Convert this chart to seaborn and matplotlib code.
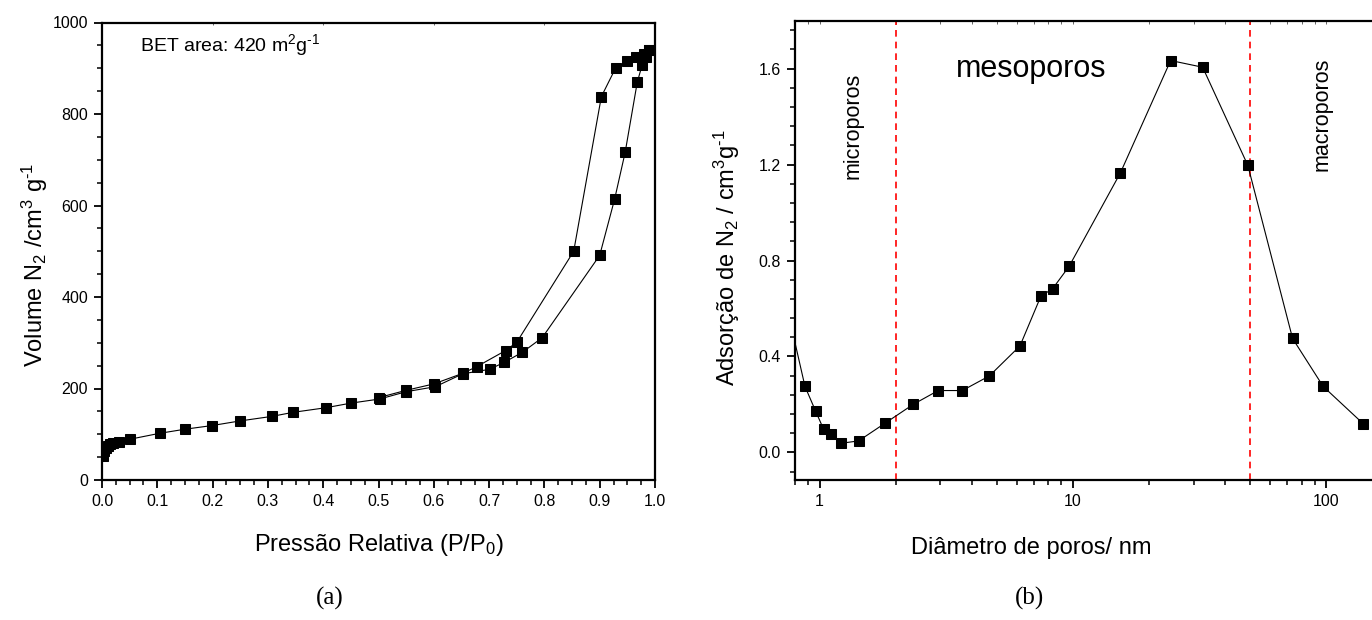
import matplotlib
matplotlib.use("Agg")
import matplotlib.pyplot as plt
import numpy as np
import pandas as pd
import seaborn as sns
from matplotlib.ticker import (MultipleLocator, LogLocator, FuncFormatter,
                               NullFormatter, FormatStrFormatter)

# ---- N2 isotherm: relative pressure and adsorbed volume ----
ads_p = [0.002, 0.004, 0.007, 0.010, 0.015, 0.020, 0.030, 0.050, 0.104, 0.150,
         0.199, 0.249, 0.307, 0.346, 0.405, 0.450, 0.502, 0.550, 0.603, 0.652,
         0.701, 0.727, 0.760, 0.796, 0.900, 0.927, 0.946, 0.968, 0.977, 0.983,
         0.989]
ads_v = [53, 64, 71, 75, 78, 81, 84, 89, 102, 111,
         119, 129, 139, 148, 158, 168, 177, 193, 204, 232,
         242, 257, 279, 311, 491, 614, 716, 870, 908, 924,
         940]
des_p = [0.989, 0.980, 0.965, 0.950, 0.929, 0.903, 0.853, 0.750, 0.730, 0.678,
         0.652, 0.600, 0.550, 0.500]
des_v = [940, 932, 924, 915, 901, 838, 500, 301, 283, 248,
         233, 210, 196, 180]

# ---- pore size distribution ----
pore_d = [0.72, 0.876, 0.964, 1.037, 1.106, 1.213, 1.426, 1.815, 2.34, 2.94,
          3.66, 4.68, 6.18, 7.47, 8.32, 9.66, 15.4, 24.3, 32.5, 49.0,
          73.6, 97.2, 139.7]
pore_v = [0.67, 0.275, 0.173, 0.097, 0.076, 0.038, 0.048, 0.122, 0.200, 0.258,
          0.258, 0.319, 0.444, 0.651, 0.683, 0.776, 1.166, 1.634, 1.606, 1.197,
          0.475, 0.275, 0.120]
region_limits = [2, 50]

sns.set_theme(style="ticks", rc={
    "axes.edgecolor": "black",
    "xtick.color": "black",
    "ytick.color": "black",
    "text.color": "black",
    "axes.labelcolor": "black",
})
plt.rcParams["font.family"] = ["Liberation Sans", "DejaVu Sans"]
plt.rcParams["mathtext.fontset"] = "custom"
plt.rcParams["mathtext.rm"] = "Liberation Sans"
plt.rcParams["mathtext.it"] = "Liberation Sans:italic"
plt.rcParams["mathtext.default"] = "regular"

W, H = 1372, 620
fig = plt.figure(figsize=(W / 100, H / 100), dpi=100)


def axes_px(left, top, right, bottom):
    return fig.add_axes([left / W, 1 - bottom / H, (right - left) / W, (bottom - top) / H])


ax1 = axes_px(102, 22.5, 655, 480)
ax2 = axes_px(795, 20.7, 1402.6, 480)

line_kw = dict(color="black", lw=0.8, marker="s", markersize=7.5,
               markeredgecolor="black", markerfacecolor="black",
               sort=False, estimator=None)

iso_ads = pd.DataFrame({"p": ads_p, "v": ads_v})
iso_des = pd.DataFrame({"p": des_p, "v": des_v})
sns.lineplot(data=iso_ads, x="p", y="v", ax=ax1, **line_kw)
sns.lineplot(data=iso_des, x="p", y="v", ax=ax1, **line_kw)

psd = pd.DataFrame({"d": pore_d, "v": pore_v})
sns.lineplot(data=psd, x="d", y="v", ax=ax2, **line_kw)
for xv in region_limits:
    ax2.axvline(xv, color="red", lw=1.2, ls=(0, (4, 3)), zorder=1)

# ---- axes (a) ----
ax1.set_xlim(0, 1.0)
ax1.set_ylim(0, 1000)
ax1.xaxis.set_major_locator(MultipleLocator(0.1))
ax1.xaxis.set_minor_locator(MultipleLocator(0.025))
ax1.xaxis.set_major_formatter(FormatStrFormatter("%.1f"))
ax1.yaxis.set_major_locator(MultipleLocator(200))
ax1.yaxis.set_minor_locator(MultipleLocator(50))

# ---- axes (b) ----
ax2.set_xscale("log")
ax2.set_xlim(0.8, 200)
ax2.set_ylim(-0.115, 1.8)
ax2.xaxis.set_major_locator(LogLocator(base=10))
ax2.xaxis.set_minor_locator(LogLocator(base=10, subs=np.arange(2, 10)))
ax2.xaxis.set_major_formatter(FuncFormatter(lambda v, p: f"{v:g}"))
ax2.xaxis.set_minor_formatter(NullFormatter())
ax2.yaxis.set_major_locator(MultipleLocator(0.4))
ax2.yaxis.set_minor_locator(MultipleLocator(0.08))
ax2.yaxis.set_major_formatter(FormatStrFormatter("%.1f"))

for ax in (ax1, ax2):
    for s in ax.spines.values():
        s.set_linewidth(1.6)
        s.set_visible(True)
    ax.tick_params(which="major", direction="out", length=6, width=1.3,
                   labelsize=11.5, pad=4)
    ax.tick_params(which="minor", direction="out", length=3.5, width=1.1)
    ax.set_xlabel("")
    ax.set_ylabel("")
    top = ax.secondary_xaxis("top")
    top.tick_params(which="both", direction="in", length=2.5, width=0.6,
                    labeltop=False, colors="0.3")
    top.spines["top"].set_visible(False)

inv = r"$^{\text{-}1}$"
ax1.set_xlabel("Pressão Relativa (P/P$_0$)", fontsize=17, va="center")
ax1.xaxis.set_label_coords(0.5, (480 - 545) / (480 - 22.5))
ax1.set_ylabel("Volume N$_2$ /cm$^3$ g" + inv, fontsize=17, va="center")
ax1.yaxis.set_label_coords((35 - 102) / (655 - 102), (480 - 265) / (480 - 22.5))

ax2.set_xlabel("Diâmetro de poros/ nm", fontsize=17, va="center")
ax2.xaxis.set_label_coords((1031 - 795) / (1402.6 - 795), (480 - 548) / (480 - 20.7))
ax2.set_ylabel("Adsorção de N$_2$ / cm$^3$g" + inv, fontsize=17, va="center")
ax2.yaxis.set_label_coords((727 - 795) / (1402.6 - 795), (480 - 258) / (480 - 20.7))

ax1.text(0.069, 0.951, "BET area: 420 m$^2$g" + inv, transform=ax1.transAxes,
         fontsize=14, ha="left", va="center")
ax2.text(6.85, 1.6, "mesoporos", fontsize=22, ha="center", va="center")
ax2.text(1.35, 1.36, "microporos", fontsize=15.5, rotation=90,
         ha="center", va="center")
ax2.text(10 ** ((1322 - 819.7) / 253.3), (452.3 - 114) / 240, "macroporos",
         fontsize=15.5, rotation=90, ha="center", va="center")

fig.text(330 / W, 1 - 598 / H, "(a)", fontsize=18, family="Liberation Serif",
         ha="center", va="center")
fig.text(1030 / W, 1 - 598 / H, "(b)", fontsize=18, family="Liberation Serif",
         ha="center", va="center")

fig.savefig("out.png", dpi=100)
